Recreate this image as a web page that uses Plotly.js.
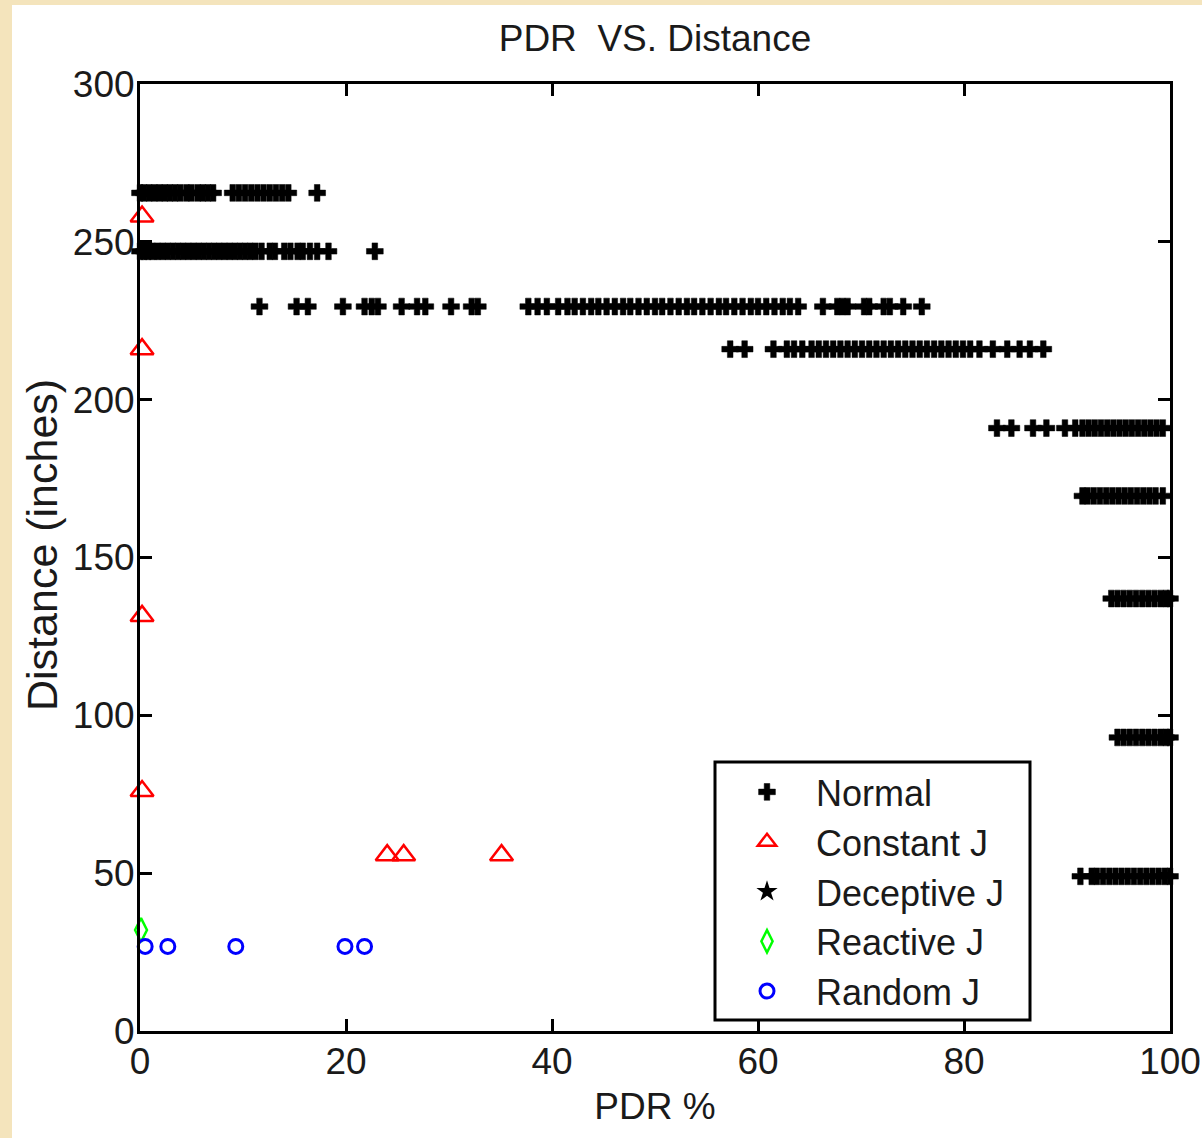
<!DOCTYPE html>
<html>
<head>
<meta charset="utf-8">
<script src="https://cdn.plot.ly/plotly-3.0.1.min.js"></script>
<style>
  html, body { margin: 0; padding: 0; background: #F4E4BC; width: 1202px; height: 1138px; overflow: hidden; }
  #plot { position: absolute; left: 12px; top: 5px; width: 1190px; height: 1133px; background: #ffffff; }
</style>
</head>
<body>
<div id="plot"></div>
<script>
// ---- Data ----
// Normal: distance rows (inches) and PDR (%) values in each row
const normalRowY = [265.5, 247, 229.5, 216, 191, 169.5, 137, 93, 49];
const normalRow266 = [0, 0.4, 0.9, 1.4, 1.9, 2.4, 2.9, 3.4, 3.9, 4.5, 5.0, 5.6, 6.1, 6.6, 7.1, 9.0, 9.6, 10.2, 10.8, 11.4, 12.0, 12.6, 13.2, 13.8, 14.4, 17.2];
const normalRow247 = [0, 0.4, 0.8, 1.2, 1.7, 2.2, 2.7, 3.2, 3.7, 4.2, 4.7, 5.2, 5.7, 6.2, 6.7, 7.2, 7.7, 8.2, 8.7, 9.2, 9.7, 10.2, 10.7, 11.2, 11.8, 12.6, 13.1, 14.0, 14.6, 15.3, 15.8, 16.5, 17.2, 18.3, 22.8];
const normalRow230 = [11.6, 15.2, 16.3, 19.7, 21.8, 22.5, 23.1, 25.4, 26.9, 27.7, 30.2, 32.2, 32.8, 37.7, 38.6, 39.5, 40.6, 41.5, 42.2, 43.0, 43.8, 44.5, 45.3, 46.1, 46.9, 47.6, 48.4, 49.2, 50.0, 50.7, 51.5, 52.3, 53.1, 53.8, 54.6, 55.4, 56.2, 56.9, 57.7, 58.5, 59.3, 60.0, 60.8, 61.6, 62.4, 63.1, 63.9, 66.3, 67.7, 68.2, 68.7, 70.3, 70.8, 72.2, 72.8, 74.1, 75.9];
const normalRow216 = [57.3, 58.7, 61.5, 62.8, 63.5, 64.3, 65.2, 65.9, 66.6, 67.3, 68.0, 68.7, 69.4, 70.1, 70.8, 71.5, 72.2, 72.9, 73.6, 74.3, 75.0, 75.7, 76.4, 77.1, 77.8, 78.5, 79.2, 79.9, 80.6, 81.5, 82.8, 84.2, 85.4, 86.4, 87.7];
const normalRow191 = [83.2, 84.6, 86.7, 88.0, 89.8, 90.8, 91.5, 92.1, 92.7, 93.3, 93.9, 94.5, 95.1, 95.7, 96.3, 96.9, 97.5, 98.1, 98.7, 99.3];
const normalRow170 = [91.5, 92.0, 92.6, 93.2, 93.8, 94.4, 95.0, 95.6, 96.2, 96.8, 97.4, 98.0, 98.6, 99.3];
const normalRow137 = [94.3, 94.9, 95.5, 96.1, 96.7, 97.3, 97.9, 98.5, 99.1, 99.6, 100];
const normalRow93  = [94.9, 95.5, 96.1, 96.7, 97.3, 97.9, 98.5, 99.1, 99.6, 100];
const normalRow49  = [91.3, 92.4, 92.9, 93.5, 94.1, 94.7, 95.3, 95.9, 96.5, 97.1, 97.7, 98.3, 98.9, 99.5, 100];
const normalRows = [normalRow266, normalRow247, normalRow230, normalRow216, normalRow191, normalRow170, normalRow137, normalRow93, normalRow49];

const constantX = [0.2, 0.2, 0.2, 0.2, 24.0, 25.6, 35.1];
const constantY = [258, 216, 131.5, 76, 55.7, 55.7, 55.7];

const deceptiveX = [1.0];
const deceptiveY = [247];

const reactiveX = [0.1];
const reactiveY = [32];

const randomX = [0.5, 2.7, 9.3, 19.9, 21.8];
const randomY = [26.8, 26.8, 26.8, 26.8, 26.8];

const seriesNames = ['Normal', 'Constant J', 'Deceptive J', 'Reactive J', 'Random J'];
const xTicks = [0, 20, 40, 60, 80, 100];
const yTicks = [0, 50, 100, 150, 200, 250, 300];

// ---- Build Normal arrays ----
const normalX = [], normalY = [];
normalRows.forEach((row, i) => { row.forEach(v => { normalX.push(v); normalY.push(normalRowY[i]); }); });

const FONT = '"Liberation Sans", Arial, Helvetica, sans-serif';
const TXT = '#1a1a1a';

const traces = [
  { x: normalX, y: normalY, name: seriesNames[0], type: 'scatter', mode: 'markers', cliponaxis: false,
    marker: { symbol: 'cross', size: 14, color: '#000', line: { color: '#000', width: 0.5 } } },
  { x: constantX, y: constantY, name: seriesNames[1], type: 'scatter', mode: 'markers', cliponaxis: false,
    marker: { symbol: 'triangle-up-open', size: 20, color: '#ff0000', line: { color: '#ff0000', width: 2.5 } } },
  { x: deceptiveX, y: deceptiveY, name: seriesNames[2], type: 'scatter', mode: 'markers', cliponaxis: false,
    marker: { symbol: 'star', size: 16, color: '#000', line: { width: 0 } } },
  { x: reactiveX, y: reactiveY, name: seriesNames[3], type: 'scatter', mode: 'markers', cliponaxis: false,
    marker: { symbol: 'diamond-tall-open', size: 17, color: '#00ff00', line: { color: '#00ff00', width: 2.5 } } },
  { x: randomX, y: randomY, name: seriesNames[4], type: 'scatter', mode: 'markers', cliponaxis: false,
    marker: { symbol: 'circle-open', size: 14, color: '#0000ff', line: { color: '#0000ff', width: 3 } } }
];

const axisCommon = {
  showline: true, linecolor: '#000', linewidth: 3, mirror: 'ticks',
  ticks: 'inside', ticklen: 12, tickwidth: 3, tickcolor: '#000',
  showgrid: false, zeroline: false,
  tickfont: { family: FONT, size: 37, color: TXT }
};

// plot area in page pixels: left 140, right 1170, top 84, bottom 1031
const px = p => (p - 140) / 1030;
const py = p => (1031 - p) / 947;

const layout = {
  width: 1190, height: 1133,
  margin: { l: 128, r: 32, t: 79, b: 107 },
  paper_bgcolor: '#ffffff', plot_bgcolor: '#ffffff',
  showlegend: true,
  title: { text: 'PDR\u00a0 VS. Distance', font: { family: FONT, size: 37, color: TXT },
           x: 0.5, xref: 'paper', y: 1 - 33 / 1133, yref: 'container', yanchor: 'middle' },
  xaxis: Object.assign({}, axisCommon, {
    range: [0, 100], tickvals: xTicks, ticktext: xTicks.map(String), ticklabelstandoff: -4,
    title: { text: 'PDR %', font: { family: FONT, size: 37, color: TXT }, standoff: 12 }
  }),
  yaxis: Object.assign({}, axisCommon, {
    range: [0, 300], tickvals: yTicks, ticktext: yTicks.map(String), ticklabelstandoff: -5,
    title: { text: '' }
  }),
  annotations: [{
    text: 'Distance (inches)', textangle: -90, showarrow: false,
    xref: 'paper', yref: 'paper', x: px(42), y: py(545),
    xanchor: 'center', yanchor: 'middle',
    font: { family: FONT, size: 43, color: TXT }
  }],
  shapes: [{
    type: 'rect', xref: 'paper', yref: 'paper', layer: 'above',
    x0: px(715), x1: px(1030), y0: py(1020), y1: py(762),
    fillcolor: '#ffffff', line: { color: '#000', width: 3 }
  }],
  legend: {
    x: px(718), y: py(762), xanchor: 'left', yanchor: 'top',
    bgcolor: 'rgba(0,0,0,0)', borderwidth: 0,
    font: { family: FONT, size: 36, color: TXT },
    itemwidth: 88, tracegroupgap: 0
  }
};

Plotly.newPlot('plot', traces, layout, { displayModeBar: false, staticPlot: true });
</script>
</body>
</html>
